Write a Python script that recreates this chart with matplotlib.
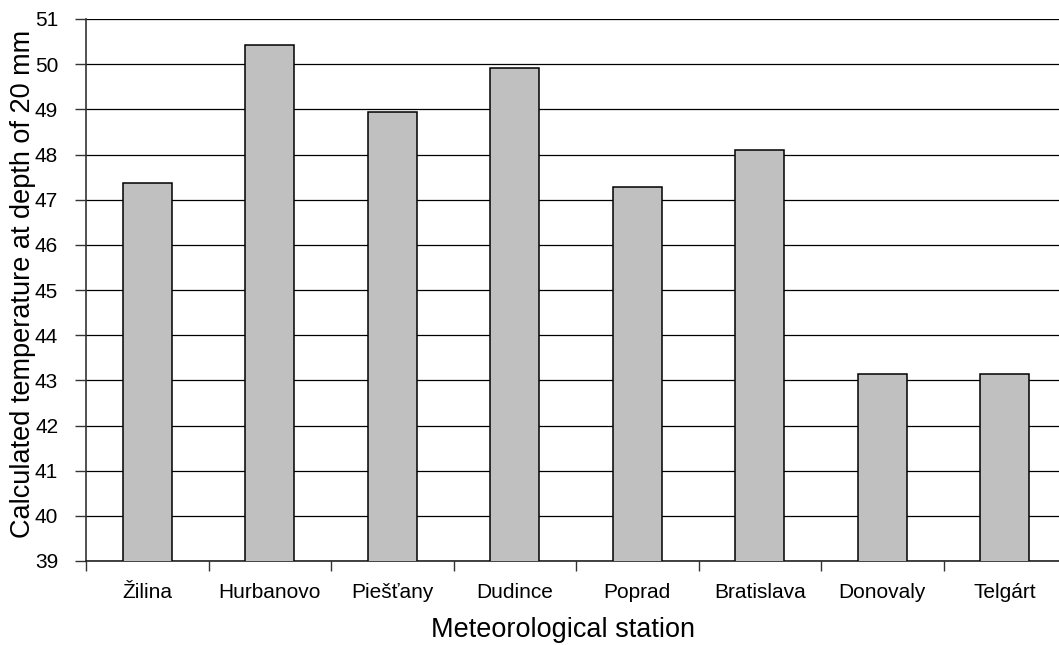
import numpy as np
import matplotlib; matplotlib.use("Agg")
import matplotlib.pyplot as plt

plt.rcParams["font.family"] = ["Liberation Sans", "DejaVu Sans"]

# ── Data ─────────────────────────────────────────────────────────────────
stations = ["Žilina", "Hurbanovo", "Piešťany", "Dudince",
            "Poprad", "Bratislava", "Donovaly", "Telgárt"]
temps = [47.37, 50.43, 48.95, 49.91, 47.27, 48.11, 43.14, 43.15]
y_ticks = list(range(39, 52))

fig = plt.figure(figsize=(10.59, 6.45), dpi=100)
# right edge deliberately past the figure (original is cropped on the right)
ax = fig.add_axes([86 / 1059, 1 - 561 / 645, 980 / 1059, 542 / 645])

x = np.arange(len(stations))
ax.bar(x, temps, width=0.4, bottom=0, color="#C0C0C0",
       edgecolor="black", linewidth=1.1, zorder=3)

ax.set_xlim(-0.5, len(stations) - 0.5)
ax.set_ylim(39, 51)
ax.set_yticks(y_ticks)
ax.yaxis.grid(True, color="black", linewidth=0.9, zorder=0)

# category labels centred, tick marks between categories
ax.set_xticks(x)
ax.set_xticklabels(stations, fontsize=15)
ax.tick_params(axis="x", which="major", length=0, pad=16)
ax.set_xticks(np.arange(len(stations) + 1) - 0.5, minor=True)
ax.tick_params(axis="x", which="minor", length=7, width=1, color="#333333")
ax.tick_params(axis="y", labelsize=15, length=8, width=1, color="#333333", pad=12)

for s in ["top", "right"]:
    ax.spines[s].set_visible(False)
ax.spines["left"].set_color("#333333")
ax.spines["bottom"].set_color("#222222")
ax.spines["left"].set_linewidth(1.2)
ax.spines["bottom"].set_linewidth(1.2)

ax.set_ylabel("Calculated temperature at depth of 20 mm", fontsize=19.5)
ax.yaxis.set_label_coords((36 - 86) / 980, (561 - 284) / 542)
ax.set_xlabel("Meteorological station", fontsize=19.5)
ax.xaxis.set_label_coords((563 - 86) / 980, (561 - 617) / 542)

fig.savefig("out.png", dpi=100)
plt.close(fig)
